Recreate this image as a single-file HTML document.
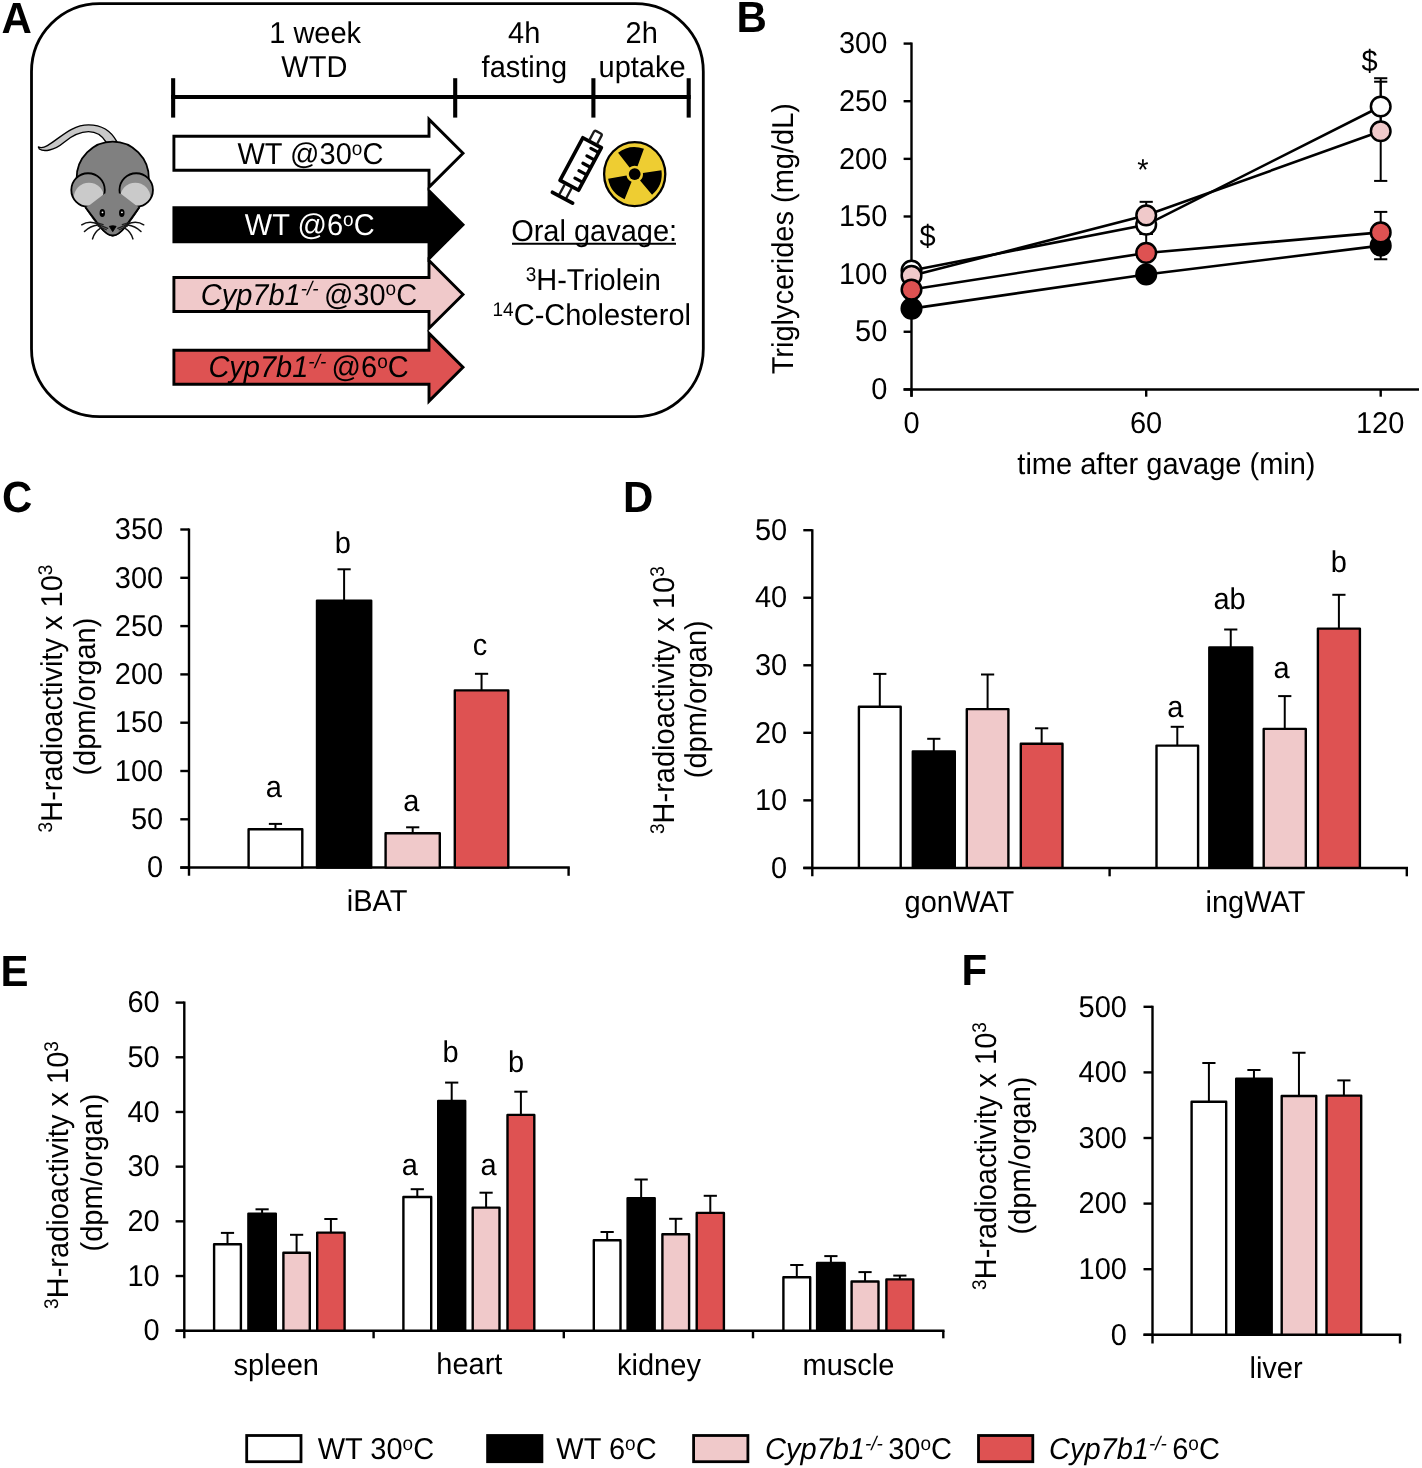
<!DOCTYPE html>
<html><head><meta charset="utf-8"><title>Figure</title>
<style>
html,body{margin:0;padding:0;background:#fff;}
body{width:1422px;height:1468px;overflow:hidden;}
svg{display:block;will-change:transform;text-rendering:geometricPrecision;font-family:"Liberation Sans",sans-serif;}
</style></head><body>
<svg width="1422" height="1468" viewBox="0 0 1422 1468">
<rect width="1422" height="1468" fill="#fff"/>
<text x="0" y="0" fill="#000" text-anchor="start" transform="translate(1.45 32.5) scale(1 1.04)"><tspan font-size="42" font-weight="bold">A</tspan></text>
<rect x="31.5" y="3.6" width="671.8" height="413.1" rx="68" ry="68" fill="none" stroke="#000" stroke-width="2.8"/>
<line x1="171.1" y1="97" x2="690.7" y2="97" stroke="#000" stroke-width="4.2" stroke-linecap="butt"/>
<line x1="173.15" y1="78.2" x2="173.15" y2="117.6" stroke="#000" stroke-width="4.1" stroke-linecap="butt"/>
<line x1="455.2" y1="78.2" x2="455.2" y2="117.6" stroke="#000" stroke-width="4.1" stroke-linecap="butt"/>
<line x1="593.4" y1="78.2" x2="593.4" y2="117.6" stroke="#000" stroke-width="4.1" stroke-linecap="butt"/>
<line x1="688.7" y1="78.2" x2="688.7" y2="117.6" stroke="#000" stroke-width="4.1" stroke-linecap="butt"/>
<text x="0" y="0" fill="#000" text-anchor="start" transform="translate(269.19 42.6) scale(1 1.04)"><tspan font-size="29">1 week</tspan></text>
<text x="0" y="0" fill="#000" text-anchor="start" transform="translate(281.37 76.8) scale(1 1.04)"><tspan font-size="29">WTD</tspan></text>
<text x="0" y="0" fill="#000" text-anchor="start" transform="translate(508.03 42.6) scale(1 1.04)"><tspan font-size="29">4h</tspan></text>
<text x="0" y="0" fill="#000" text-anchor="start" transform="translate(481.59 76.8) scale(1 1.04)"><tspan font-size="29">fasting</tspan></text>
<text x="0" y="0" fill="#000" text-anchor="start" transform="translate(625.54 42.5) scale(1 1.04)"><tspan font-size="29">2h</tspan></text>
<text x="0" y="0" fill="#000" text-anchor="start" transform="translate(598.52 76.8) scale(1 1.04)"><tspan font-size="29">uptake</tspan></text>
<path d="M173.9,136.25 L429,136.25 L429,119.35 L463,153.25 L429,187.15 L429,170.25 L173.9,170.25 Z" fill="#fff" stroke="#000" stroke-width="2.9" stroke-miterlimit="10"/>
<path d="M173.9,207.75 L429,207.75 L429,190.85 L463,224.75 L429,258.65 L429,241.75 L173.9,241.75 Z" fill="#000" stroke="#000" stroke-width="2.9" stroke-miterlimit="10"/>
<path d="M173.9,277.45 L429,277.45 L429,260.55 L463,294.45 L429,328.35 L429,311.45 L173.9,311.45 Z" fill="#F0C9CA" stroke="#000" stroke-width="2.9" stroke-miterlimit="10"/>
<path d="M173.9,350.25 L429,350.25 L429,333.35 L463,367.25 L429,401.15 L429,384.25 L173.9,384.25 Z" fill="#DE5252" stroke="#000" stroke-width="2.9" stroke-miterlimit="10"/>
<text x="0" y="0" fill="#000" text-anchor="start" transform="translate(237.47 164) scale(1 1.04)"><tspan font-size="29">WT @30</tspan><tspan font-size="19" dy="-9">o</tspan><tspan font-size="29" dy="9">C</tspan></text>
<text x="0" y="0" fill="#fff" text-anchor="start" transform="translate(244.87 234.9) scale(1 1.04)"><tspan font-size="29">WT @6</tspan><tspan font-size="19" dy="-9">o</tspan><tspan font-size="29" dy="9">C</tspan></text>
<text x="0" y="0" fill="#000" text-anchor="start" transform="translate(200.7 304.7) scale(1 1.04)"><tspan font-size="29" font-style="italic">Cyp7b1</tspan><tspan font-size="19" font-style="italic" dy="-9">-/- </tspan><tspan font-size="29" dy="9">@30</tspan><tspan font-size="19" dy="-9">o</tspan><tspan font-size="29" dy="9">C</tspan></text>
<text x="0" y="0" fill="#000" text-anchor="start" transform="translate(208.4 377.1) scale(1 1.04)"><tspan font-size="29" font-style="italic">Cyp7b1</tspan><tspan font-size="19" font-style="italic" dy="-9">-/- </tspan><tspan font-size="29" dy="9">@6</tspan><tspan font-size="19" dy="-9">o</tspan><tspan font-size="29" dy="9">C</tspan></text>
<text x="0" y="0" fill="#000" text-anchor="start" transform="translate(511.13 241) scale(1 1.04)"><tspan font-size="29">Oral gavage:</tspan></text>
<line x1="512" y1="243.8" x2="676" y2="243.8" stroke="#000" stroke-width="2" stroke-linecap="butt"/>
<text x="0" y="0" fill="#000" text-anchor="start" transform="translate(525.68 290.1) scale(1 1.04)"><tspan font-size="19" dy="-8.6">3</tspan><tspan font-size="29" dy="8.6">H-Triolein</tspan></text>
<text x="0" y="0" fill="#000" text-anchor="start" transform="translate(492.55 324.5) scale(1 1.04)"><tspan font-size="19" dy="-8.6">14</tspan><tspan font-size="29" dy="8.6">C-Cholesterol</tspan></text>
<g transform="translate(30 115) scale(0.09141)" stroke-linejoin="round">
<path d="M950,292 C880,160 760,108 640,108 C450,108 320,260 190,335 C150,358 115,360 92,350 L102,372 C150,405 260,392 370,300 C460,225 540,182 640,182 C720,182 790,225 835,300 Z" fill="#c8c8c8" stroke="#000" stroke-width="15"/>
<path d="M510,700 C505,470 690,292 905,292 C1120,292 1305,470 1300,700 L1195,1010 Q1000,1320 905,1320 Q810,1320 610,1010 Z" fill="#808080" stroke="#000" stroke-width="20"/>
<clipPath id="ear635"><circle cx="635" cy="820" r="183"/></clipPath>
<circle cx="635" cy="820" r="183" fill="#8a8a8a"/>
<circle cx="645" cy="905" r="165" fill="#cacaca" clip-path="url(#ear635)"/>
<circle cx="635" cy="820" r="183" fill="none" stroke="#000" stroke-width="20"/>
<clipPath id="ear1162"><circle cx="1162" cy="820" r="183"/></clipPath>
<circle cx="1162" cy="820" r="183" fill="#8a8a8a"/>
<circle cx="1152" cy="905" r="165" fill="#cacaca" clip-path="url(#ear1162)"/>
<circle cx="1162" cy="820" r="183" fill="none" stroke="#000" stroke-width="20"/>
<path d="M818,858 L990,858 L1165,993 L1200,1010 Q1000,1320 905,1320 Q810,1320 600,1010 L643,993 Z" fill="#808080"/>
<path d="M605,1008 L770,1225 Q840,1318 905,1318 Q970,1318 1040,1225 L1197,1008" fill="none" stroke="#000" stroke-width="20"/>
<path d="M730,1192 L850,1240 M745,1215 L835,1255 M728,1178 L800,1200" fill="none" stroke="#222" stroke-width="14" stroke-linecap="round"/>
<path d="M1080,1192 L960,1240 M1065,1215 L975,1255 M1082,1178 L1010,1200" fill="none" stroke="#222" stroke-width="14" stroke-linecap="round"/>
<ellipse cx="791" cy="1072" rx="30" ry="43" fill="#000"/>
<circle cx="793" cy="1065" r="10" fill="#fff"/>
<ellipse cx="1004" cy="1072" rx="30" ry="43" fill="#000"/>
<circle cx="1006" cy="1065" r="10" fill="#fff"/>
<path d="M868,1218 Q905,1205 942,1218 L905,1276 Z" fill="#000" stroke="#000" stroke-width="10"/>
<path d="M740,1190 Q643,1150 566,1201" fill="none" stroke="#111" stroke-width="17" stroke-linecap="round"/>
<path d="M741,1203 Q662,1210 596,1275" fill="none" stroke="#111" stroke-width="17" stroke-linecap="round"/>
<path d="M765,1243 Q705,1280 684,1355" fill="none" stroke="#111" stroke-width="17" stroke-linecap="round"/>
<path d="M1070,1190 Q1167,1150 1244,1201" fill="none" stroke="#111" stroke-width="17" stroke-linecap="round"/>
<path d="M1069,1203 Q1148,1210 1214,1275" fill="none" stroke="#111" stroke-width="17" stroke-linecap="round"/>
<path d="M1045,1243 Q1105,1280 1126,1355" fill="none" stroke="#111" stroke-width="17" stroke-linecap="round"/>
</g>
<g transform="translate(580.7 164) rotate(28.2)" fill="none" stroke="#000" stroke-linecap="round" stroke-linejoin="round">
<rect x="-10.5" y="-24.1" width="21" height="48.2" stroke-width="3.7" fill="#fff"/>
<line x1="1.6" y1="-18.6" x2="9" y2="-18.6" stroke-width="3.2"/>
<line x1="1.6" y1="-10.15" x2="9" y2="-10.15" stroke-width="3.2"/>
<line x1="1.6" y1="-1.7" x2="9" y2="-1.7" stroke-width="3.2"/>
<line x1="1.6" y1="6.75" x2="9" y2="6.75" stroke-width="3.2"/>
<line x1="1.6" y1="15.2" x2="9" y2="15.2" stroke-width="3.2"/>
<path d="M-3.6,-26 L-3.6,-34.6 Q-3.6,-36.4 -1.8,-36.4 L3.2,-36.4 Q5,-36.4 5,-34.6 L5,-26" stroke-width="2.4" stroke="#1a1a1a"/>
<line x1="-4.4" y1="26.5" x2="-4.4" y2="37" stroke-width="2.4" stroke="#1a1a1a"/>
<line x1="3.4" y1="26.5" x2="3.4" y2="37" stroke-width="2.4" stroke="#1a1a1a"/>
<line x1="-11.5" y1="38.3" x2="11.3" y2="38.3" stroke-width="3.8"/>
</g>
<ellipse cx="634.7" cy="174.1" rx="30.6" ry="32" fill="#EECD32" stroke="#000" stroke-width="2.3"/>
<path d="M629.59,167.56 L618.08,152.82 A27.0,27.0 0 0 1 643.93,148.73 L637.54,166.3 A8.3,8.3 0 0 0 629.59,167.56 Z" fill="#000"/>
<path d="M642.92,172.94 L661.44,170.34 A27.0,27.0 0 0 1 652.06,194.78 L640.04,180.46 A8.3,8.3 0 0 0 642.92,172.94 Z" fill="#000"/>
<path d="M631.59,181.8 L624.59,199.13 A27.0,27.0 0 0 1 608.11,178.79 L626.53,175.54 A8.3,8.3 0 0 0 631.59,181.8 Z" fill="#000"/>
<circle cx="634.7" cy="174.1" r="5.9" fill="#000"/>
<text x="0" y="0" fill="#000" text-anchor="start" transform="translate(736.59 32) scale(1 1.04)"><tspan font-size="42" font-weight="bold">B</tspan></text>
<line x1="911.5" y1="42.59" x2="911.5" y2="396.7" stroke="#000" stroke-width="2.4" stroke-linecap="butt"/>
<line x1="903.6" y1="389.4" x2="1419" y2="389.4" stroke="#000" stroke-width="2.5" stroke-linecap="butt"/>
<line x1="903.6" y1="389.4" x2="911.5" y2="389.4" stroke="#000" stroke-width="2.4" stroke-linecap="butt"/>
<text x="0" y="0" fill="#000" text-anchor="start" transform="translate(871.2 399.1) scale(1 1.04)"><tspan font-size="29">0</tspan></text>
<line x1="903.6" y1="331.76" x2="911.5" y2="331.76" stroke="#000" stroke-width="2.4" stroke-linecap="butt"/>
<text x="0" y="0" fill="#000" text-anchor="start" transform="translate(855.08 341.46) scale(1 1.04)"><tspan font-size="29">50</tspan></text>
<line x1="903.6" y1="274.13" x2="911.5" y2="274.13" stroke="#000" stroke-width="2.4" stroke-linecap="butt"/>
<text x="0" y="0" fill="#000" text-anchor="start" transform="translate(838.95 283.83) scale(1 1.04)"><tspan font-size="29">100</tspan></text>
<line x1="903.6" y1="216.49" x2="911.5" y2="216.49" stroke="#000" stroke-width="2.4" stroke-linecap="butt"/>
<text x="0" y="0" fill="#000" text-anchor="start" transform="translate(838.95 226.19) scale(1 1.04)"><tspan font-size="29">150</tspan></text>
<line x1="903.6" y1="158.86" x2="911.5" y2="158.86" stroke="#000" stroke-width="2.4" stroke-linecap="butt"/>
<text x="0" y="0" fill="#000" text-anchor="start" transform="translate(838.95 168.56) scale(1 1.04)"><tspan font-size="29">200</tspan></text>
<line x1="903.6" y1="101.22" x2="911.5" y2="101.22" stroke="#000" stroke-width="2.4" stroke-linecap="butt"/>
<text x="0" y="0" fill="#000" text-anchor="start" transform="translate(838.95 110.92) scale(1 1.04)"><tspan font-size="29">250</tspan></text>
<line x1="903.6" y1="43.59" x2="911.5" y2="43.59" stroke="#000" stroke-width="2.4" stroke-linecap="butt"/>
<text x="0" y="0" fill="#000" text-anchor="start" transform="translate(838.95 53.29) scale(1 1.04)"><tspan font-size="29">300</tspan></text>
<line x1="911.5" y1="389.4" x2="911.5" y2="396.7" stroke="#000" stroke-width="2.4" stroke-linecap="butt"/>
<text x="0" y="0" fill="#000" text-anchor="start" transform="translate(903.44 433) scale(1 1.04)"><tspan font-size="29">0</tspan></text>
<line x1="1146.2" y1="389.4" x2="1146.2" y2="396.7" stroke="#000" stroke-width="2.4" stroke-linecap="butt"/>
<text x="0" y="0" fill="#000" text-anchor="start" transform="translate(1129.9 433) scale(1 1.04)"><tspan font-size="29">60</tspan></text>
<line x1="1380.7" y1="389.4" x2="1380.7" y2="396.7" stroke="#000" stroke-width="2.4" stroke-linecap="butt"/>
<text x="0" y="0" fill="#000" text-anchor="start" transform="translate(1355.97 433) scale(1 1.04)"><tspan font-size="29">120</tspan></text>
<text x="0" y="0" fill="#000" text-anchor="start" transform="translate(1017.36 474) scale(1 1.04)"><tspan font-size="29">time after gavage (min)</tspan></text>
<text x="0" y="0" fill="#000" text-anchor="start" transform="translate(792.7 374.35) rotate(-90) translate(0 0) scale(1 1.04)"><tspan font-size="29">Triglycerides (mg/dL)</tspan></text>
<polyline points="911.5,308.6 1146.2,274.48 1380.7,245.66" fill="none" stroke="#000" stroke-width="2.6"/>
<polyline points="911.5,270.56 1146.2,224.79 1380.7,106.53" fill="none" stroke="#000" stroke-width="2.6"/>
<polyline points="911.5,275.86 1146.2,215.34 1380.7,131.31" fill="none" stroke="#000" stroke-width="2.6"/>
<polyline points="911.5,289.58 1146.2,252.92 1380.7,232.4" fill="none" stroke="#000" stroke-width="2.6"/>
<line x1="1380.7" y1="232.06" x2="1380.7" y2="259.26" stroke="#000" stroke-width="2" stroke-linecap="butt"/>
<line x1="1374.1" y1="232.06" x2="1387.3" y2="232.06" stroke="#000" stroke-width="2" stroke-linecap="butt"/>
<line x1="1374.1" y1="259.26" x2="1387.3" y2="259.26" stroke="#000" stroke-width="2" stroke-linecap="butt"/>
<line x1="1146.2" y1="215.59" x2="1146.2" y2="233.99" stroke="#000" stroke-width="2" stroke-linecap="butt"/>
<line x1="1139.6" y1="215.59" x2="1152.8" y2="215.59" stroke="#000" stroke-width="2" stroke-linecap="butt"/>
<line x1="1139.6" y1="233.99" x2="1152.8" y2="233.99" stroke="#000" stroke-width="2" stroke-linecap="butt"/>
<line x1="1380.7" y1="78.23" x2="1380.7" y2="134.83" stroke="#000" stroke-width="2" stroke-linecap="butt"/>
<line x1="1374.1" y1="78.23" x2="1387.3" y2="78.23" stroke="#000" stroke-width="2" stroke-linecap="butt"/>
<line x1="1374.1" y1="134.83" x2="1387.3" y2="134.83" stroke="#000" stroke-width="2" stroke-linecap="butt"/>
<line x1="1146.2" y1="201.84" x2="1146.2" y2="228.84" stroke="#000" stroke-width="2" stroke-linecap="butt"/>
<line x1="1139.6" y1="201.84" x2="1152.8" y2="201.84" stroke="#000" stroke-width="2" stroke-linecap="butt"/>
<line x1="1139.6" y1="228.84" x2="1152.8" y2="228.84" stroke="#000" stroke-width="2" stroke-linecap="butt"/>
<line x1="1380.7" y1="81.71" x2="1380.7" y2="180.91" stroke="#000" stroke-width="2" stroke-linecap="butt"/>
<line x1="1374.1" y1="81.71" x2="1387.3" y2="81.71" stroke="#000" stroke-width="2" stroke-linecap="butt"/>
<line x1="1374.1" y1="180.91" x2="1387.3" y2="180.91" stroke="#000" stroke-width="2" stroke-linecap="butt"/>
<line x1="1146.2" y1="234.02" x2="1146.2" y2="271.82" stroke="#000" stroke-width="2" stroke-linecap="butt"/>
<line x1="1139.6" y1="234.02" x2="1152.8" y2="234.02" stroke="#000" stroke-width="2" stroke-linecap="butt"/>
<line x1="1139.6" y1="271.82" x2="1152.8" y2="271.82" stroke="#000" stroke-width="2" stroke-linecap="butt"/>
<line x1="1380.7" y1="211.9" x2="1380.7" y2="252.9" stroke="#000" stroke-width="2" stroke-linecap="butt"/>
<line x1="1374.1" y1="211.9" x2="1387.3" y2="211.9" stroke="#000" stroke-width="2" stroke-linecap="butt"/>
<line x1="1374.1" y1="252.9" x2="1387.3" y2="252.9" stroke="#000" stroke-width="2" stroke-linecap="butt"/>
<circle cx="911.5" cy="308.6" r="9.8" fill="#000" stroke="#000" stroke-width="2.5"/>
<circle cx="1146.2" cy="274.48" r="9.8" fill="#000" stroke="#000" stroke-width="2.5"/>
<circle cx="1380.7" cy="245.66" r="9.8" fill="#000" stroke="#000" stroke-width="2.5"/>
<circle cx="911.5" cy="270.56" r="9.8" fill="#fff" stroke="#000" stroke-width="2.5"/>
<circle cx="1146.2" cy="224.79" r="9.8" fill="#fff" stroke="#000" stroke-width="2.5"/>
<circle cx="1380.7" cy="106.53" r="9.8" fill="#fff" stroke="#000" stroke-width="2.5"/>
<circle cx="911.5" cy="275.86" r="9.8" fill="#F0C9CA" stroke="#000" stroke-width="2.5"/>
<circle cx="1146.2" cy="215.34" r="9.8" fill="#F0C9CA" stroke="#000" stroke-width="2.5"/>
<circle cx="1380.7" cy="131.31" r="9.8" fill="#F0C9CA" stroke="#000" stroke-width="2.5"/>
<circle cx="911.5" cy="289.58" r="9.8" fill="#DE5252" stroke="#000" stroke-width="2.5"/>
<circle cx="1146.2" cy="252.92" r="9.8" fill="#DE5252" stroke="#000" stroke-width="2.5"/>
<circle cx="1380.7" cy="232.4" r="9.8" fill="#DE5252" stroke="#000" stroke-width="2.5"/>
<text x="0" y="0" fill="#000" text-anchor="start" transform="translate(919.39 245.9) scale(1 1.04)"><tspan font-size="29">$</tspan></text>
<text x="0" y="0" fill="#000" text-anchor="start" transform="translate(1361.61 71.4) scale(1 1.04)"><tspan font-size="29">$</tspan></text>
<text x="0" y="0" fill="#000" text-anchor="start" transform="translate(1137.25 179.9) scale(1 1.04)"><tspan font-size="29">*</tspan></text>
<text x="0" y="0" fill="#000" text-anchor="start" transform="translate(2.08 511.8) scale(1 1.04)"><tspan font-size="42" font-weight="bold">C</tspan></text>
<line x1="189" y1="528.5" x2="189" y2="875.8" stroke="#000" stroke-width="2.4" stroke-linecap="butt"/>
<line x1="180.3" y1="867.6" x2="569.8" y2="867.6" stroke="#000" stroke-width="2.5" stroke-linecap="butt"/>
<line x1="568.6" y1="867.6" x2="568.6" y2="875.8" stroke="#000" stroke-width="2.4" stroke-linecap="butt"/>
<line x1="180.3" y1="867.6" x2="189" y2="867.6" stroke="#000" stroke-width="2.4" stroke-linecap="butt"/>
<text x="0" y="0" fill="#000" text-anchor="start" transform="translate(147 877.3) scale(1 1.04)"><tspan font-size="29">0</tspan></text>
<line x1="180.3" y1="819.3" x2="189" y2="819.3" stroke="#000" stroke-width="2.4" stroke-linecap="butt"/>
<text x="0" y="0" fill="#000" text-anchor="start" transform="translate(130.88 829) scale(1 1.04)"><tspan font-size="29">50</tspan></text>
<line x1="180.3" y1="771" x2="189" y2="771" stroke="#000" stroke-width="2.4" stroke-linecap="butt"/>
<text x="0" y="0" fill="#000" text-anchor="start" transform="translate(114.75 780.7) scale(1 1.04)"><tspan font-size="29">100</tspan></text>
<line x1="180.3" y1="722.7" x2="189" y2="722.7" stroke="#000" stroke-width="2.4" stroke-linecap="butt"/>
<text x="0" y="0" fill="#000" text-anchor="start" transform="translate(114.75 732.4) scale(1 1.04)"><tspan font-size="29">150</tspan></text>
<line x1="180.3" y1="674.4" x2="189" y2="674.4" stroke="#000" stroke-width="2.4" stroke-linecap="butt"/>
<text x="0" y="0" fill="#000" text-anchor="start" transform="translate(114.75 684.1) scale(1 1.04)"><tspan font-size="29">200</tspan></text>
<line x1="180.3" y1="626.1" x2="189" y2="626.1" stroke="#000" stroke-width="2.4" stroke-linecap="butt"/>
<text x="0" y="0" fill="#000" text-anchor="start" transform="translate(114.75 635.8) scale(1 1.04)"><tspan font-size="29">250</tspan></text>
<line x1="180.3" y1="577.8" x2="189" y2="577.8" stroke="#000" stroke-width="2.4" stroke-linecap="butt"/>
<text x="0" y="0" fill="#000" text-anchor="start" transform="translate(114.75 587.5) scale(1 1.04)"><tspan font-size="29">300</tspan></text>
<line x1="180.3" y1="529.5" x2="189" y2="529.5" stroke="#000" stroke-width="2.4" stroke-linecap="butt"/>
<text x="0" y="0" fill="#000" text-anchor="start" transform="translate(114.75 539.2) scale(1 1.04)"><tspan font-size="29">350</tspan></text>
<line x1="275.45" y1="829.2" x2="275.45" y2="823.9" stroke="#000" stroke-width="2" stroke-linecap="butt"/>
<line x1="268.85" y1="823.9" x2="282.05" y2="823.9" stroke="#000" stroke-width="2" stroke-linecap="butt"/>
<rect x="248.6" y="829.2" width="53.7" height="38.4" fill="#fff" stroke="#000" stroke-width="2.4" stroke-linejoin="round"/>
<line x1="344.1" y1="600.6" x2="344.1" y2="569.3" stroke="#000" stroke-width="2" stroke-linecap="butt"/>
<line x1="337.5" y1="569.3" x2="350.7" y2="569.3" stroke="#000" stroke-width="2" stroke-linecap="butt"/>
<rect x="317" y="600.6" width="54.2" height="267" fill="#000" stroke="#000" stroke-width="2.4" stroke-linejoin="round"/>
<line x1="412.7" y1="833.3" x2="412.7" y2="827.3" stroke="#000" stroke-width="2" stroke-linecap="butt"/>
<line x1="406.1" y1="827.3" x2="419.3" y2="827.3" stroke="#000" stroke-width="2" stroke-linecap="butt"/>
<rect x="385.6" y="833.3" width="54.2" height="34.3" fill="#F0C9CA" stroke="#000" stroke-width="2.4" stroke-linejoin="round"/>
<line x1="481.55" y1="690.4" x2="481.55" y2="673.8" stroke="#000" stroke-width="2" stroke-linecap="butt"/>
<line x1="474.95" y1="673.8" x2="488.15" y2="673.8" stroke="#000" stroke-width="2" stroke-linecap="butt"/>
<rect x="454.8" y="690.4" width="53.5" height="177.2" fill="#DE5252" stroke="#000" stroke-width="2.4" stroke-linejoin="round"/>
<text x="0" y="0" fill="#000" text-anchor="start" transform="translate(265.77 797.2) scale(1 1.04)"><tspan font-size="29">a</tspan></text>
<text x="0" y="0" fill="#000" text-anchor="start" transform="translate(334.73 553.4) scale(1 1.04)"><tspan font-size="29">b</tspan></text>
<text x="0" y="0" fill="#000" text-anchor="start" transform="translate(403.27 811.1) scale(1 1.04)"><tspan font-size="29">a</tspan></text>
<text x="0" y="0" fill="#000" text-anchor="start" transform="translate(472.77 655.3) scale(1 1.04)"><tspan font-size="29">c</tspan></text>
<text x="0" y="0" fill="#000" text-anchor="start" transform="translate(346.74 911.4) scale(1 1.04)"><tspan font-size="29">iBAT</tspan></text>
<text x="0" y="0" fill="#000" text-anchor="middle" transform="translate(61.6 698.5) rotate(-90) translate(0 0) scale(1 1.04)"><tspan font-size="19" dy="-9.5">3</tspan><tspan font-size="29" dy="9.5">H-radioactivity x 10</tspan><tspan font-size="19" dy="-9.5">3</tspan></text>
<text x="0" y="0" fill="#000" text-anchor="middle" transform="translate(95.1 696.6) rotate(-90) translate(0 0) scale(1 1.04)"><tspan font-size="29">(dpm/organ)</tspan></text>
<text x="0" y="0" fill="#000" text-anchor="start" transform="translate(623.09 512) scale(1 1.04)"><tspan font-size="42" font-weight="bold">D</tspan></text>
<line x1="812.3" y1="529.2" x2="812.3" y2="876.3" stroke="#000" stroke-width="2.4" stroke-linecap="butt"/>
<line x1="803.3" y1="867.9" x2="1408" y2="867.9" stroke="#000" stroke-width="2.5" stroke-linecap="butt"/>
<line x1="1109.6" y1="867.9" x2="1109.6" y2="876.3" stroke="#000" stroke-width="2.4" stroke-linecap="butt"/>
<line x1="1406.8" y1="867.9" x2="1406.8" y2="876.3" stroke="#000" stroke-width="2.4" stroke-linecap="butt"/>
<line x1="803.3" y1="867.9" x2="812.3" y2="867.9" stroke="#000" stroke-width="2.4" stroke-linecap="butt"/>
<text x="0" y="0" fill="#000" text-anchor="start" transform="translate(771.1 877.6) scale(1 1.04)"><tspan font-size="29">0</tspan></text>
<line x1="803.3" y1="800.36" x2="812.3" y2="800.36" stroke="#000" stroke-width="2.4" stroke-linecap="butt"/>
<text x="0" y="0" fill="#000" text-anchor="start" transform="translate(754.98 810.06) scale(1 1.04)"><tspan font-size="29">10</tspan></text>
<line x1="803.3" y1="732.82" x2="812.3" y2="732.82" stroke="#000" stroke-width="2.4" stroke-linecap="butt"/>
<text x="0" y="0" fill="#000" text-anchor="start" transform="translate(754.98 742.52) scale(1 1.04)"><tspan font-size="29">20</tspan></text>
<line x1="803.3" y1="665.28" x2="812.3" y2="665.28" stroke="#000" stroke-width="2.4" stroke-linecap="butt"/>
<text x="0" y="0" fill="#000" text-anchor="start" transform="translate(754.98 674.98) scale(1 1.04)"><tspan font-size="29">30</tspan></text>
<line x1="803.3" y1="597.74" x2="812.3" y2="597.74" stroke="#000" stroke-width="2.4" stroke-linecap="butt"/>
<text x="0" y="0" fill="#000" text-anchor="start" transform="translate(754.98 607.44) scale(1 1.04)"><tspan font-size="29">40</tspan></text>
<line x1="803.3" y1="530.2" x2="812.3" y2="530.2" stroke="#000" stroke-width="2.4" stroke-linecap="butt"/>
<text x="0" y="0" fill="#000" text-anchor="start" transform="translate(754.98 539.9) scale(1 1.04)"><tspan font-size="29">50</tspan></text>
<line x1="879.8" y1="706.8" x2="879.8" y2="673.9" stroke="#000" stroke-width="2" stroke-linecap="butt"/>
<line x1="873.2" y1="673.9" x2="886.4" y2="673.9" stroke="#000" stroke-width="2" stroke-linecap="butt"/>
<rect x="858.9" y="706.8" width="41.8" height="161.1" fill="#fff" stroke="#000" stroke-width="2.4" stroke-linejoin="round"/>
<line x1="933.8" y1="751.4" x2="933.8" y2="738.8" stroke="#000" stroke-width="2" stroke-linecap="butt"/>
<line x1="927.2" y1="738.8" x2="940.4" y2="738.8" stroke="#000" stroke-width="2" stroke-linecap="butt"/>
<rect x="912.8" y="751.4" width="42" height="116.5" fill="#000" stroke="#000" stroke-width="2.4" stroke-linejoin="round"/>
<line x1="987.6" y1="709.1" x2="987.6" y2="674.5" stroke="#000" stroke-width="2" stroke-linecap="butt"/>
<line x1="981" y1="674.5" x2="994.2" y2="674.5" stroke="#000" stroke-width="2" stroke-linecap="butt"/>
<rect x="966.8" y="709.1" width="41.6" height="158.8" fill="#F0C9CA" stroke="#000" stroke-width="2.4" stroke-linejoin="round"/>
<line x1="1041.65" y1="743.7" x2="1041.65" y2="728.3" stroke="#000" stroke-width="2" stroke-linecap="butt"/>
<line x1="1035.05" y1="728.3" x2="1048.25" y2="728.3" stroke="#000" stroke-width="2" stroke-linecap="butt"/>
<rect x="1020.8" y="743.7" width="41.7" height="124.2" fill="#DE5252" stroke="#000" stroke-width="2.4" stroke-linejoin="round"/>
<line x1="1177.3" y1="745.6" x2="1177.3" y2="726.8" stroke="#000" stroke-width="2" stroke-linecap="butt"/>
<line x1="1170.7" y1="726.8" x2="1183.9" y2="726.8" stroke="#000" stroke-width="2" stroke-linecap="butt"/>
<rect x="1156.5" y="745.6" width="41.6" height="122.3" fill="#fff" stroke="#000" stroke-width="2.4" stroke-linejoin="round"/>
<line x1="1230.75" y1="647.4" x2="1230.75" y2="629.5" stroke="#000" stroke-width="2" stroke-linecap="butt"/>
<line x1="1224.15" y1="629.5" x2="1237.35" y2="629.5" stroke="#000" stroke-width="2" stroke-linecap="butt"/>
<rect x="1209.3" y="647.4" width="42.9" height="220.5" fill="#000" stroke="#000" stroke-width="2.4" stroke-linejoin="round"/>
<line x1="1284.75" y1="728.9" x2="1284.75" y2="696.1" stroke="#000" stroke-width="2" stroke-linecap="butt"/>
<line x1="1278.15" y1="696.1" x2="1291.35" y2="696.1" stroke="#000" stroke-width="2" stroke-linecap="butt"/>
<rect x="1263.7" y="728.9" width="42.1" height="139" fill="#F0C9CA" stroke="#000" stroke-width="2.4" stroke-linejoin="round"/>
<line x1="1338.9" y1="628.6" x2="1338.9" y2="594.8" stroke="#000" stroke-width="2" stroke-linecap="butt"/>
<line x1="1332.3" y1="594.8" x2="1345.5" y2="594.8" stroke="#000" stroke-width="2" stroke-linecap="butt"/>
<rect x="1317.9" y="628.6" width="42" height="239.3" fill="#DE5252" stroke="#000" stroke-width="2.4" stroke-linejoin="round"/>
<text x="0" y="0" fill="#000" text-anchor="start" transform="translate(1167.37 717) scale(1 1.04)"><tspan font-size="29">a</tspan></text>
<text x="0" y="0" fill="#000" text-anchor="start" transform="translate(1213.47 609.1) scale(1 1.04)"><tspan font-size="29">ab</tspan></text>
<text x="0" y="0" fill="#000" text-anchor="start" transform="translate(1273.47 678.2) scale(1 1.04)"><tspan font-size="29">a</tspan></text>
<text x="0" y="0" fill="#000" text-anchor="start" transform="translate(1330.63 572.1) scale(1 1.04)"><tspan font-size="29">b</tspan></text>
<text x="0" y="0" fill="#000" text-anchor="start" transform="translate(904.58 911.8) scale(1 1.04)"><tspan font-size="29">gonWAT</tspan></text>
<text x="0" y="0" fill="#000" text-anchor="start" transform="translate(1205.46 911.5) scale(1 1.04)"><tspan font-size="29">ingWAT</tspan></text>
<text x="0" y="0" fill="#000" text-anchor="middle" transform="translate(674 700.15) rotate(-90) translate(0 0) scale(1 1.04)"><tspan font-size="19" dy="-9.5">3</tspan><tspan font-size="29" dy="9.5">H-radioactivity x 10</tspan><tspan font-size="19" dy="-9.5">3</tspan></text>
<text x="0" y="0" fill="#000" text-anchor="middle" transform="translate(706.4 699.2) rotate(-90) translate(0 0) scale(1 1.04)"><tspan font-size="29">(dpm/organ)</tspan></text>
<text x="0" y="0" fill="#000" text-anchor="start" transform="translate(0.59 985.6) scale(1 1.04)"><tspan font-size="42" font-weight="bold">E</tspan></text>
<line x1="184.3" y1="1001.6" x2="184.3" y2="1338.3" stroke="#000" stroke-width="2.4" stroke-linecap="butt"/>
<line x1="175.6" y1="1330.7" x2="944.5" y2="1330.7" stroke="#000" stroke-width="2.5" stroke-linecap="butt"/>
<line x1="373.6" y1="1330.7" x2="373.6" y2="1338.3" stroke="#000" stroke-width="2.4" stroke-linecap="butt"/>
<line x1="563.8" y1="1330.7" x2="563.8" y2="1338.3" stroke="#000" stroke-width="2.4" stroke-linecap="butt"/>
<line x1="753" y1="1330.7" x2="753" y2="1338.3" stroke="#000" stroke-width="2.4" stroke-linecap="butt"/>
<line x1="943.3" y1="1330.7" x2="943.3" y2="1338.3" stroke="#000" stroke-width="2.4" stroke-linecap="butt"/>
<line x1="175.6" y1="1330.7" x2="184.3" y2="1330.7" stroke="#000" stroke-width="2.4" stroke-linecap="butt"/>
<text x="0" y="0" fill="#000" text-anchor="start" transform="translate(143.6 1340.4) scale(1 1.04)"><tspan font-size="29">0</tspan></text>
<line x1="175.6" y1="1276.02" x2="184.3" y2="1276.02" stroke="#000" stroke-width="2.4" stroke-linecap="butt"/>
<text x="0" y="0" fill="#000" text-anchor="start" transform="translate(127.48 1285.72) scale(1 1.04)"><tspan font-size="29">10</tspan></text>
<line x1="175.6" y1="1221.33" x2="184.3" y2="1221.33" stroke="#000" stroke-width="2.4" stroke-linecap="butt"/>
<text x="0" y="0" fill="#000" text-anchor="start" transform="translate(127.48 1231.03) scale(1 1.04)"><tspan font-size="29">20</tspan></text>
<line x1="175.6" y1="1166.65" x2="184.3" y2="1166.65" stroke="#000" stroke-width="2.4" stroke-linecap="butt"/>
<text x="0" y="0" fill="#000" text-anchor="start" transform="translate(127.48 1176.35) scale(1 1.04)"><tspan font-size="29">30</tspan></text>
<line x1="175.6" y1="1111.97" x2="184.3" y2="1111.97" stroke="#000" stroke-width="2.4" stroke-linecap="butt"/>
<text x="0" y="0" fill="#000" text-anchor="start" transform="translate(127.48 1121.67) scale(1 1.04)"><tspan font-size="29">40</tspan></text>
<line x1="175.6" y1="1057.28" x2="184.3" y2="1057.28" stroke="#000" stroke-width="2.4" stroke-linecap="butt"/>
<text x="0" y="0" fill="#000" text-anchor="start" transform="translate(127.48 1066.98) scale(1 1.04)"><tspan font-size="29">50</tspan></text>
<line x1="175.6" y1="1002.6" x2="184.3" y2="1002.6" stroke="#000" stroke-width="2.4" stroke-linecap="butt"/>
<text x="0" y="0" fill="#000" text-anchor="start" transform="translate(127.48 1012.3) scale(1 1.04)"><tspan font-size="29">60</tspan></text>
<line x1="227.5" y1="1244.2" x2="227.5" y2="1232.9" stroke="#000" stroke-width="2" stroke-linecap="butt"/>
<line x1="220.9" y1="1232.9" x2="234.1" y2="1232.9" stroke="#000" stroke-width="2" stroke-linecap="butt"/>
<rect x="214.1" y="1244.2" width="26.8" height="86.5" fill="#fff" stroke="#000" stroke-width="2.4" stroke-linejoin="round"/>
<line x1="262.1" y1="1213.6" x2="262.1" y2="1209.3" stroke="#000" stroke-width="2" stroke-linecap="butt"/>
<line x1="255.5" y1="1209.3" x2="268.7" y2="1209.3" stroke="#000" stroke-width="2" stroke-linecap="butt"/>
<rect x="248.4" y="1213.6" width="27.4" height="117.1" fill="#000" stroke="#000" stroke-width="2.4" stroke-linejoin="round"/>
<line x1="296.6" y1="1252.7" x2="296.6" y2="1234.8" stroke="#000" stroke-width="2" stroke-linecap="butt"/>
<line x1="290" y1="1234.8" x2="303.2" y2="1234.8" stroke="#000" stroke-width="2" stroke-linecap="butt"/>
<rect x="283.4" y="1252.7" width="26.4" height="78" fill="#F0C9CA" stroke="#000" stroke-width="2.4" stroke-linejoin="round"/>
<line x1="330.9" y1="1232.6" x2="330.9" y2="1219" stroke="#000" stroke-width="2" stroke-linecap="butt"/>
<line x1="324.3" y1="1219" x2="337.5" y2="1219" stroke="#000" stroke-width="2" stroke-linecap="butt"/>
<rect x="317.2" y="1232.6" width="27.4" height="98.1" fill="#DE5252" stroke="#000" stroke-width="2.4" stroke-linejoin="round"/>
<line x1="417.3" y1="1197" x2="417.3" y2="1189.2" stroke="#000" stroke-width="2" stroke-linecap="butt"/>
<line x1="410.7" y1="1189.2" x2="423.9" y2="1189.2" stroke="#000" stroke-width="2" stroke-linecap="butt"/>
<rect x="403.4" y="1197" width="27.8" height="133.7" fill="#fff" stroke="#000" stroke-width="2.4" stroke-linejoin="round"/>
<line x1="451.7" y1="1101" x2="451.7" y2="1082.6" stroke="#000" stroke-width="2" stroke-linecap="butt"/>
<line x1="445.1" y1="1082.6" x2="458.3" y2="1082.6" stroke="#000" stroke-width="2" stroke-linecap="butt"/>
<rect x="438.2" y="1101" width="27" height="229.7" fill="#000" stroke="#000" stroke-width="2.4" stroke-linejoin="round"/>
<line x1="486.1" y1="1207.6" x2="486.1" y2="1192.7" stroke="#000" stroke-width="2" stroke-linecap="butt"/>
<line x1="479.5" y1="1192.7" x2="492.7" y2="1192.7" stroke="#000" stroke-width="2" stroke-linecap="butt"/>
<rect x="472.7" y="1207.6" width="26.8" height="123.1" fill="#F0C9CA" stroke="#000" stroke-width="2.4" stroke-linejoin="round"/>
<line x1="520.9" y1="1114.9" x2="520.9" y2="1091.7" stroke="#000" stroke-width="2" stroke-linecap="butt"/>
<line x1="514.3" y1="1091.7" x2="527.5" y2="1091.7" stroke="#000" stroke-width="2" stroke-linecap="butt"/>
<rect x="507.5" y="1114.9" width="26.8" height="215.8" fill="#DE5252" stroke="#000" stroke-width="2.4" stroke-linejoin="round"/>
<line x1="607.15" y1="1240.3" x2="607.15" y2="1232" stroke="#000" stroke-width="2" stroke-linecap="butt"/>
<line x1="600.55" y1="1232" x2="613.75" y2="1232" stroke="#000" stroke-width="2" stroke-linecap="butt"/>
<rect x="593.8" y="1240.3" width="26.7" height="90.4" fill="#fff" stroke="#000" stroke-width="2.4" stroke-linejoin="round"/>
<line x1="641.15" y1="1198.1" x2="641.15" y2="1179.5" stroke="#000" stroke-width="2" stroke-linecap="butt"/>
<line x1="634.55" y1="1179.5" x2="647.75" y2="1179.5" stroke="#000" stroke-width="2" stroke-linecap="butt"/>
<rect x="627.6" y="1198.1" width="27.1" height="132.6" fill="#000" stroke="#000" stroke-width="2.4" stroke-linejoin="round"/>
<line x1="675.75" y1="1234.3" x2="675.75" y2="1218.8" stroke="#000" stroke-width="2" stroke-linecap="butt"/>
<line x1="669.15" y1="1218.8" x2="682.35" y2="1218.8" stroke="#000" stroke-width="2" stroke-linecap="butt"/>
<rect x="662.4" y="1234.3" width="26.7" height="96.4" fill="#F0C9CA" stroke="#000" stroke-width="2.4" stroke-linejoin="round"/>
<line x1="710.3" y1="1212.9" x2="710.3" y2="1195.8" stroke="#000" stroke-width="2" stroke-linecap="butt"/>
<line x1="703.7" y1="1195.8" x2="716.9" y2="1195.8" stroke="#000" stroke-width="2" stroke-linecap="butt"/>
<rect x="696.7" y="1212.9" width="27.2" height="117.8" fill="#DE5252" stroke="#000" stroke-width="2.4" stroke-linejoin="round"/>
<line x1="796.8" y1="1277.3" x2="796.8" y2="1265" stroke="#000" stroke-width="2" stroke-linecap="butt"/>
<line x1="790.2" y1="1265" x2="803.4" y2="1265" stroke="#000" stroke-width="2" stroke-linecap="butt"/>
<rect x="783.4" y="1277.3" width="26.8" height="53.4" fill="#fff" stroke="#000" stroke-width="2.4" stroke-linejoin="round"/>
<line x1="830.9" y1="1262.9" x2="830.9" y2="1256.1" stroke="#000" stroke-width="2" stroke-linecap="butt"/>
<line x1="824.3" y1="1256.1" x2="837.5" y2="1256.1" stroke="#000" stroke-width="2" stroke-linecap="butt"/>
<rect x="817.1" y="1262.9" width="27.6" height="67.8" fill="#000" stroke="#000" stroke-width="2.4" stroke-linejoin="round"/>
<line x1="865.05" y1="1281.5" x2="865.05" y2="1272.1" stroke="#000" stroke-width="2" stroke-linecap="butt"/>
<line x1="858.45" y1="1272.1" x2="871.65" y2="1272.1" stroke="#000" stroke-width="2" stroke-linecap="butt"/>
<rect x="851.6" y="1281.5" width="26.9" height="49.2" fill="#F0C9CA" stroke="#000" stroke-width="2.4" stroke-linejoin="round"/>
<line x1="899.85" y1="1279.4" x2="899.85" y2="1275.6" stroke="#000" stroke-width="2" stroke-linecap="butt"/>
<line x1="893.25" y1="1275.6" x2="906.45" y2="1275.6" stroke="#000" stroke-width="2" stroke-linecap="butt"/>
<rect x="886.4" y="1279.4" width="26.9" height="51.3" fill="#DE5252" stroke="#000" stroke-width="2.4" stroke-linejoin="round"/>
<text x="0" y="0" fill="#000" text-anchor="start" transform="translate(401.77 1175) scale(1 1.04)"><tspan font-size="29">a</tspan></text>
<text x="0" y="0" fill="#000" text-anchor="start" transform="translate(442.43 1062.4) scale(1 1.04)"><tspan font-size="29">b</tspan></text>
<text x="0" y="0" fill="#000" text-anchor="start" transform="translate(480.57 1175) scale(1 1.04)"><tspan font-size="29">a</tspan></text>
<text x="0" y="0" fill="#000" text-anchor="start" transform="translate(507.93 1071.5) scale(1 1.04)"><tspan font-size="29">b</tspan></text>
<text x="0" y="0" fill="#000" text-anchor="start" transform="translate(233.49 1374.6) scale(1 1.04)"><tspan font-size="29">spleen</tspan></text>
<text x="0" y="0" fill="#000" text-anchor="start" transform="translate(436.29 1374) scale(1 1.04)"><tspan font-size="29">heart</tspan></text>
<text x="0" y="0" fill="#000" text-anchor="start" transform="translate(617.05 1374.6) scale(1 1.04)"><tspan font-size="29">kidney</tspan></text>
<text x="0" y="0" fill="#000" text-anchor="start" transform="translate(802.57 1374.6) scale(1 1.04)"><tspan font-size="29">muscle</tspan></text>
<text x="0" y="0" fill="#000" text-anchor="middle" transform="translate(67.5 1175) rotate(-90) translate(0 0) scale(1 1.04)"><tspan font-size="19" dy="-9.5">3</tspan><tspan font-size="29" dy="9.5">H-radioactivity x 10</tspan><tspan font-size="19" dy="-9.5">3</tspan></text>
<text x="0" y="0" fill="#000" text-anchor="middle" transform="translate(102 1172.5) rotate(-90) translate(0 0) scale(1 1.04)"><tspan font-size="29">(dpm/organ)</tspan></text>
<text x="0" y="0" fill="#000" text-anchor="start" transform="translate(961.39 984.8) scale(1 1.04)"><tspan font-size="42" font-weight="bold">F</tspan></text>
<line x1="1152.5" y1="1005.8" x2="1152.5" y2="1343.5" stroke="#000" stroke-width="2.4" stroke-linecap="butt"/>
<line x1="1143.5" y1="1334.8" x2="1401.2" y2="1334.8" stroke="#000" stroke-width="2.5" stroke-linecap="butt"/>
<line x1="1400" y1="1334.8" x2="1400" y2="1343.5" stroke="#000" stroke-width="2.4" stroke-linecap="butt"/>
<line x1="1143.5" y1="1334.8" x2="1152.5" y2="1334.8" stroke="#000" stroke-width="2.4" stroke-linecap="butt"/>
<text x="0" y="0" fill="#000" text-anchor="start" transform="translate(1110.8 1344.5) scale(1 1.04)"><tspan font-size="29">0</tspan></text>
<line x1="1143.5" y1="1269.2" x2="1152.5" y2="1269.2" stroke="#000" stroke-width="2.4" stroke-linecap="butt"/>
<text x="0" y="0" fill="#000" text-anchor="start" transform="translate(1078.55 1278.9) scale(1 1.04)"><tspan font-size="29">100</tspan></text>
<line x1="1143.5" y1="1203.6" x2="1152.5" y2="1203.6" stroke="#000" stroke-width="2.4" stroke-linecap="butt"/>
<text x="0" y="0" fill="#000" text-anchor="start" transform="translate(1078.55 1213.3) scale(1 1.04)"><tspan font-size="29">200</tspan></text>
<line x1="1143.5" y1="1138" x2="1152.5" y2="1138" stroke="#000" stroke-width="2.4" stroke-linecap="butt"/>
<text x="0" y="0" fill="#000" text-anchor="start" transform="translate(1078.55 1147.7) scale(1 1.04)"><tspan font-size="29">300</tspan></text>
<line x1="1143.5" y1="1072.4" x2="1152.5" y2="1072.4" stroke="#000" stroke-width="2.4" stroke-linecap="butt"/>
<text x="0" y="0" fill="#000" text-anchor="start" transform="translate(1078.55 1082.1) scale(1 1.04)"><tspan font-size="29">400</tspan></text>
<line x1="1143.5" y1="1006.8" x2="1152.5" y2="1006.8" stroke="#000" stroke-width="2.4" stroke-linecap="butt"/>
<text x="0" y="0" fill="#000" text-anchor="start" transform="translate(1078.55 1016.5) scale(1 1.04)"><tspan font-size="29">500</tspan></text>
<line x1="1208.9" y1="1101.7" x2="1208.9" y2="1063" stroke="#000" stroke-width="2" stroke-linecap="butt"/>
<line x1="1202.3" y1="1063" x2="1215.5" y2="1063" stroke="#000" stroke-width="2" stroke-linecap="butt"/>
<rect x="1191.6" y="1101.7" width="34.6" height="233.1" fill="#fff" stroke="#000" stroke-width="2.4" stroke-linejoin="round"/>
<line x1="1253.95" y1="1078.7" x2="1253.95" y2="1070" stroke="#000" stroke-width="2" stroke-linecap="butt"/>
<line x1="1247.35" y1="1070" x2="1260.55" y2="1070" stroke="#000" stroke-width="2" stroke-linecap="butt"/>
<rect x="1236.2" y="1078.7" width="35.5" height="256.1" fill="#000" stroke="#000" stroke-width="2.4" stroke-linejoin="round"/>
<line x1="1298.95" y1="1096" x2="1298.95" y2="1052.75" stroke="#000" stroke-width="2" stroke-linecap="butt"/>
<line x1="1292.35" y1="1052.75" x2="1305.55" y2="1052.75" stroke="#000" stroke-width="2" stroke-linecap="butt"/>
<rect x="1281.7" y="1096" width="34.5" height="238.8" fill="#F0C9CA" stroke="#000" stroke-width="2.4" stroke-linejoin="round"/>
<line x1="1343.9" y1="1095.6" x2="1343.9" y2="1080.4" stroke="#000" stroke-width="2" stroke-linecap="butt"/>
<line x1="1337.3" y1="1080.4" x2="1350.5" y2="1080.4" stroke="#000" stroke-width="2" stroke-linecap="butt"/>
<rect x="1326.6" y="1095.6" width="34.6" height="239.2" fill="#DE5252" stroke="#000" stroke-width="2.4" stroke-linejoin="round"/>
<text x="0" y="0" fill="#000" text-anchor="start" transform="translate(1249.45 1378.2) scale(1 1.04)"><tspan font-size="29">liver</tspan></text>
<text x="0" y="0" fill="#000" text-anchor="middle" transform="translate(995.5 1156) rotate(-90) translate(0 0) scale(1 1.04)"><tspan font-size="19" dy="-9.5">3</tspan><tspan font-size="29" dy="9.5">H-radioactivity x 10</tspan><tspan font-size="19" dy="-9.5">3</tspan></text>
<text x="0" y="0" fill="#000" text-anchor="middle" transform="translate(1029.5 1155.5) rotate(-90) translate(0 0) scale(1 1.04)"><tspan font-size="29">(dpm/organ)</tspan></text>
<rect x="246.7" y="1435.5" width="54.3" height="26.2" fill="#fff" stroke="#000" stroke-width="2.8"/>
<rect x="487.6" y="1435.5" width="54.3" height="26.2" fill="#000" stroke="#000" stroke-width="2.8"/>
<rect x="693.6" y="1435.5" width="54.3" height="26.2" fill="#F0C9CA" stroke="#000" stroke-width="2.8"/>
<rect x="978.5" y="1435.5" width="54.3" height="26.2" fill="#DE5252" stroke="#000" stroke-width="2.8"/>
<text x="0" y="0" fill="#000" text-anchor="start" transform="translate(317.67 1459.4) scale(1 1.04)"><tspan font-size="29">WT 30</tspan><tspan font-size="19" dy="-9">o</tspan><tspan font-size="29" dy="9">C</tspan></text>
<text x="0" y="0" fill="#000" text-anchor="start" transform="translate(556.37 1459.4) scale(1 1.04)"><tspan font-size="29">WT 6</tspan><tspan font-size="19" dy="-9">o</tspan><tspan font-size="29" dy="9">C</tspan></text>
<text x="0" y="0" fill="#000" text-anchor="start" transform="translate(765 1459.4) scale(1 1.04)"><tspan font-size="29" font-style="italic">Cyp7b1</tspan><tspan font-size="19" font-style="italic" dy="-9">-/- </tspan><tspan font-size="29" dy="9">30</tspan><tspan font-size="19" dy="-9">o</tspan><tspan font-size="29" dy="9">C</tspan></text>
<text x="0" y="0" fill="#000" text-anchor="start" transform="translate(1049 1459.4) scale(1 1.04)"><tspan font-size="29" font-style="italic">Cyp7b1</tspan><tspan font-size="19" font-style="italic" dy="-9">-/- </tspan><tspan font-size="29" dy="9">6</tspan><tspan font-size="19" dy="-9">o</tspan><tspan font-size="29" dy="9">C</tspan></text>
</svg>
</body></html>
